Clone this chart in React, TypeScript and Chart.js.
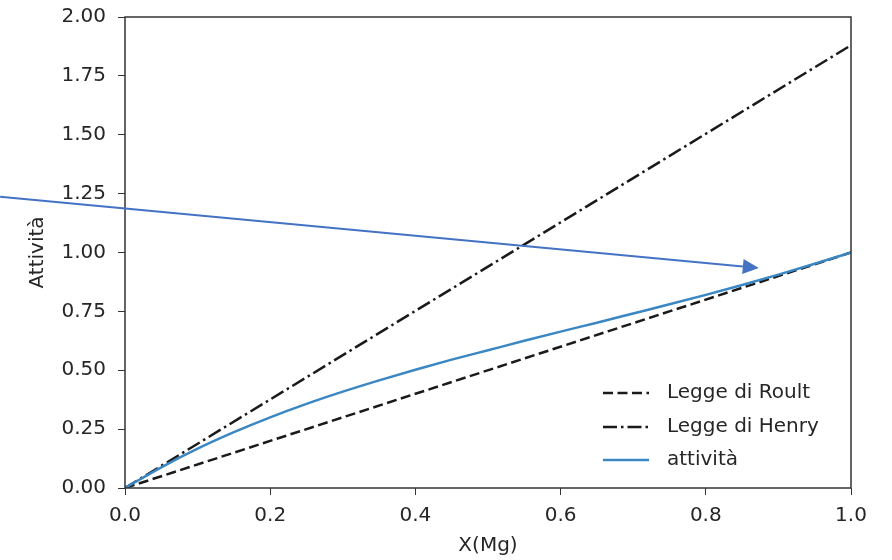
import React, { useEffect, useRef } from 'react';
import { Chart, registerables } from 'chart.js';

Chart.register(...registerables);

// Data
const lineX = [0, 1];
const raoultY = [0, 1];
const henryY = [0, 1.88];

const activityX = [0, 0.05, 0.1, 0.15, 0.2, 0.25, 0.3, 0.35, 0.4, 0.45, 0.5, 0.55, 0.6, 0.65, 0.7, 0.75, 0.8, 0.85, 0.9, 0.95, 1.0];
const activityY = [0, 0.088, 0.167, 0.237, 0.300, 0.357, 0.409, 0.457, 0.502, 0.545, 0.585, 0.625, 0.664, 0.702, 0.741, 0.780, 0.820, 0.862, 0.906, 0.952, 1.0];

const seriesLabels = ['Legge di Roult', 'Legge di Henry', 'attività'];
const xTitle = 'X(Mg)';
const yTitle = 'Attività';

// Arrow annotation (data coordinates)
const arrowStart = { x: -0.172, y: 1.237 };
const arrowTip = { x: 0.873, y: 0.934 };

const FONT = "'DejaVu Sans', sans-serif";
const TEXT = '#262626';
const FS = 20;

const frameAndExtras = {
  id: 'frameAndExtras',
  afterDraw(chart: any) {
    const { ctx, chartArea, scales } = chart;
    ctx.save();
    // frame
    ctx.strokeStyle = '#333333';
    ctx.lineWidth = 1.5;
    ctx.strokeRect(chartArea.left, chartArea.top, chartArea.right - chartArea.left, chartArea.bottom - chartArea.top);

    // legend
    const metas = chart.data.datasets;
    ctx.font = `${FS}px ${FONT}`;
    ctx.textBaseline = 'middle';
    const rowOffsets = [95, 61, 28];
    metas.forEach((ds: any, i: number) => {
      const y = chartArea.bottom - rowOffsets[i];
      const x0 = chartArea.right - 248;
      const x1 = chartArea.right - 202;
      ctx.beginPath();
      ctx.setLineDash(ds.borderDash || []);
      ctx.strokeStyle = ds.borderColor;
      ctx.lineWidth = ds.borderWidth;
      ctx.moveTo(x0, y);
      ctx.lineTo(x1, y);
      ctx.stroke();
      ctx.setLineDash([]);
      ctx.fillStyle = TEXT;
      ctx.fillText(ds.label, chartArea.right - 184, y);
    });

    // arrow
    const sx = scales.x.getPixelForValue(arrowStart.x);
    const sy = scales.y.getPixelForValue(arrowStart.y);
    const tx = scales.x.getPixelForValue(arrowTip.x);
    const ty = scales.y.getPixelForValue(arrowTip.y);
    const ang = Math.atan2(ty - sy, tx - sx);
    const headLen = 16;
    const headHalf = 7.5;
    const bx = tx - headLen * Math.cos(ang);
    const by = ty - headLen * Math.sin(ang);
    ctx.strokeStyle = '#4472C4';
    ctx.fillStyle = '#4472C4';
    ctx.lineWidth = 2;
    ctx.beginPath();
    ctx.moveTo(sx, sy);
    ctx.lineTo(bx, by);
    ctx.stroke();
    ctx.beginPath();
    ctx.moveTo(tx, ty);
    ctx.lineTo(bx + headHalf * Math.sin(ang), by - headHalf * Math.cos(ang));
    ctx.lineTo(bx - headHalf * Math.sin(ang), by + headHalf * Math.cos(ang));
    ctx.closePath();
    ctx.fill();
    ctx.restore();
  },
};

export default function App() {
  const ref = useRef<HTMLCanvasElement | null>(null);

  useEffect(() => {
    document.body.style.margin = '0';
    const canvas = ref.current;
    if (!canvas) return;
    const chart = new Chart(canvas, {
      type: 'line',
      data: {
        datasets: [
          {
            label: seriesLabels[0],
            data: lineX.map((x, i) => ({ x, y: raoultY[i] })),
            borderColor: '#1a1a1a',
            borderWidth: 2.5,
            borderDash: [10, 4.5],
            pointRadius: 0,
            fill: false,
            order: 3,
          },
          {
            label: seriesLabels[1],
            data: lineX.map((x, i) => ({ x, y: henryY[i] })),
            borderColor: '#1a1a1a',
            borderWidth: 2.5,
            borderDash: [14, 4, 2.5, 4],
            pointRadius: 0,
            fill: false,
            order: 2,
          },
          {
            label: seriesLabels[2],
            data: activityX.map((x, i) => ({ x, y: activityY[i] })),
            borderColor: '#3a87c4',
            borderWidth: 2.5,
            pointRadius: 0,
            cubicInterpolationMode: 'monotone',
            fill: false,
            order: 1,
          },
        ],
      },
      options: {
        animation: false,
        responsive: false,
        maintainAspectRatio: false,
        layout: { padding: { top: 17, right: 41, left: 0, bottom: 0 } },
        plugins: { legend: { display: false }, tooltip: { enabled: false } },
        scales: {
          x: {
            type: 'linear',
            min: 0,
            max: 1,
            afterFit: (s: any) => { s.height = 72; s.paddingLeft = 0; s.paddingRight = 0; },
            grid: { drawOnChartArea: false, drawTicks: true, tickLength: 7, tickColor: '#333333' },
            border: { display: false },
            ticks: {
              stepSize: 0.2,
              color: TEXT,
              padding: 9,
              maxRotation: 0,
              font: { family: FONT, size: FS },
              callback: (v: any) => Number(v).toFixed(1),
            },
            title: { display: true, text: xTitle, color: TEXT, font: { family: FONT, size: FS }, padding: { top: 4, bottom: 2 } },
          },
          y: {
            type: 'linear',
            min: 0,
            max: 2,
            afterFit: (s: any) => { s.width = 125; s.paddingTop = 0; s.paddingBottom = 0; },
            grid: { drawOnChartArea: false, drawTicks: true, tickLength: 7, tickColor: '#333333' },
            border: { display: false },
            ticks: {
              stepSize: 0.25,
              color: TEXT,
              padding: 12,
              font: { family: FONT, size: FS },
              callback: (v: any) => Number(v).toFixed(2),
            },
            title: { display: true, text: yTitle, color: TEXT, font: { family: FONT, size: FS }, padding: { top: 26, bottom: 4 } },
          },
        },
      },
      plugins: [frameAndExtras],
    });
    return () => chart.destroy();
  }, []);

  return (
    <div style={{ position: 'fixed', left: 0, top: 0, width: 892, height: 560, background: '#fff' }}>
      <canvas ref={ref} width={892} height={560} style={{ width: 892, height: 560 }} />
    </div>
  );
}
